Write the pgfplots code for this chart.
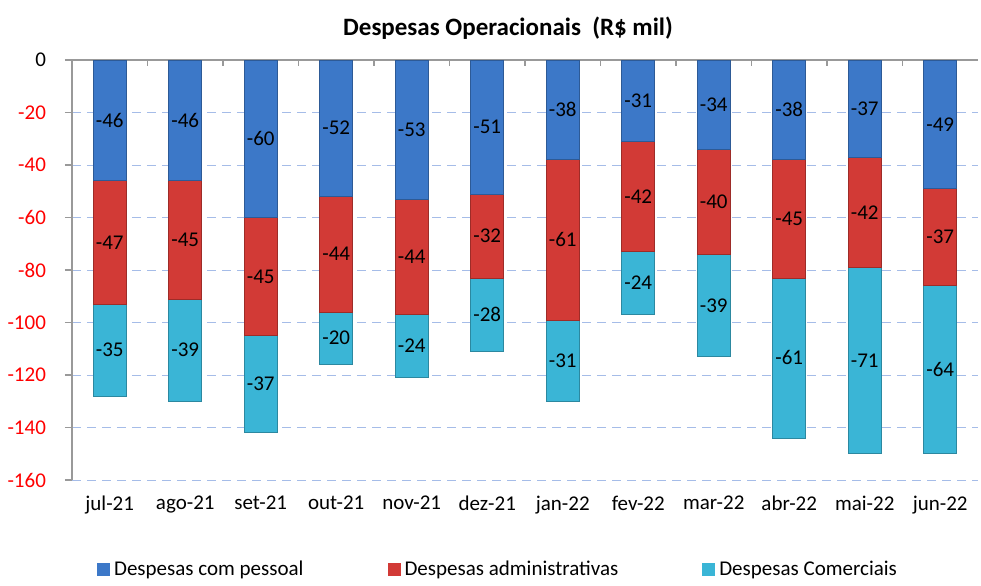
\documentclass[border=0pt]{standalone}
\usepackage{pgfplots}
\pgfplotsset{compat=1.18}
\usepackage{pgfplotstable}
\usepackage{fontspec}
\setmainfont{Carlito}
\definecolor{cBlue}{RGB}{60,120,200}
\definecolor{cRed}{RGB}{210,58,54}
\definecolor{cCyan}{RGB}{58,181,214}
\definecolor{gridc}{RGB}{165,188,232}
\pgfplotstableread{
x pessoal adm com
0 -46 -47 -35
1 -46 -45 -39
2 -60 -45 -37
3 -52 -44 -20
4 -53 -44 -24
5 -51 -32 -28
6 -38 -61 -31
7 -31 -42 -24
8 -34 -40 -39
9 -38 -45 -61
10 -37 -42 -71
11 -49 -37 -64
}\data
\begin{document}
\begin{tikzpicture}
\path[use as bounding box] (-36pt,-52.5pt) rectangle (454.5pt,240pt);
\begin{axis}[
  at={(0,0)}, anchor=south west,
  scale only axis, width=453pt, height=210pt,
  ybar stacked, bar width=16.5pt,
  xmin=-0.5, xmax=11.5, ymin=-160, ymax=0,
  /pgf/number format/assume math mode=true,
  xtick=data,
  xticklabels={jul-21,ago-21,set-21,out-21,nov-21,dez-21,jan-22,fev-22,mar-22,abr-22,mai-22,jun-22},
  x tick label style={font=\fontsize{10.5}{12}\selectfont, yshift=-1pt},
  ytick={-160,-140,-120,-100,-80,-60,-40,-20,0},
  yticklabels={\textcolor{red}{-160},\textcolor{red}{-140},\textcolor{red}{-120},\textcolor{red}{-100},\textcolor{red}{-80},\textcolor{red}{-60},\textcolor{red}{-40},\textcolor{red}{-20},0},
  y tick label style={font=\fontsize{10.5}{12}\selectfont, xshift=-6pt},
  axis x line*=bottom,
  x axis line style={draw=none},
  xtick style={draw=none},
  axis y line*=left,
  y axis line style={draw=gray!80, line width=0.7pt, -},
  ytick style={draw=gray!80, line width=0.7pt},
  tick align=outside,
  major tick length=3.5pt,
  ymajorgrids,
  grid style={dash pattern=on 4.5pt off 3pt, gridc, line width=0.5pt},
  every node near coord/.append style={font=\fontsize{10.5}{12}\selectfont, text=black},
  nodes near coords,
  nodes near coords align={center},
  point meta=explicit,
  legend style={at={(0.5,0)}, anchor=center, yshift=-45pt, xshift=-13pt, draw=none, fill=none,
    legend columns=3, font=\fontsize{10.5}{12}\selectfont,
    /tikz/every even column/.append style={column sep=40pt}},
  legend image code/.code={\draw[#1, draw=none] (0pt,-3pt) rectangle (6.5pt,3.5pt);},
  clip=false,
]
\addplot[draw=cBlue!75!black, line width=0.3pt, fill=cBlue] table[x=x, y=pessoal, meta=pessoal] {\data};
\addplot[draw=cRed!75!black, line width=0.3pt, fill=cRed] table[x=x, y=adm, meta=adm] {\data};
\addplot[draw=cCyan!75!black, line width=0.3pt, fill=cCyan] table[x=x, y=com, meta=com] {\data};
\legend{Despesas com pessoal,Despesas administrativas,Despesas Comerciais}
\draw[gray!80, line width=0.7pt] (axis cs:-0.5,0) -- (axis cs:11.5,0);
\pgfplotsinvokeforeach{0.5,1.5,2.5,3.5,4.5,5.5,6.5,7.5,8.5,9.5,10.5}{
  \draw[gray!80, line width=0.7pt] (axis cs:#1,0) -- ([yshift=-3pt]axis cs:#1,0);
}
\end{axis}
\node[font=\bfseries\fontsize{12.5}{14}\selectfont] at (218pt,226pt) {Despesas Operacionais\ \ (R\$ mil)};
\end{tikzpicture}
\end{document}
